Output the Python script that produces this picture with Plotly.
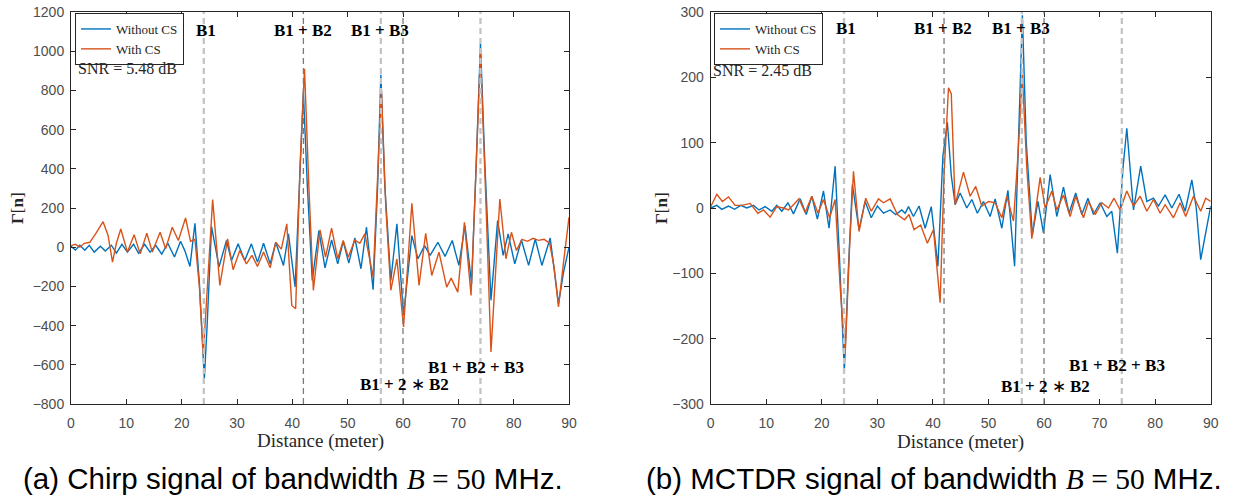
import plotly.graph_objects as go

W, H = 1243, 503

# (a) chirp, B = 50 MHz : distancia (m) y Γ[n]
chirp_x_sin = [0, 0.8, 1.6, 2.5, 3.3, 4.2, 5.3, 6.2, 7.3, 8.2, 9.2, 10.2, 11.3, 12.2, 13.3, 14.3, 15.3, 16.4,
               17.5, 18.7, 19.8, 20.6, 21.5, 22.4, 23.2, 23.7, 24.1, 24.6, 25.4, 26.75, 28.1, 29.0, 30.2, 31.4,
               32.6, 33.7, 34.8, 36.0, 37.0, 38.4, 39.3, 40.5, 41.3, 42.0, 42.7, 43.6, 44.8, 45.9, 47.1, 48.2,
               49.2, 50.2, 51.3, 52.4, 53.4, 54.6, 55.4, 56.0, 56.7, 57.8, 58.9, 60.1, 61.6, 62.7, 63.9, 64.9,
               66.3, 67.6, 68.9, 70.1, 71.2, 72.4, 73.2, 74.0, 74.8, 75.9, 77.1, 78.1, 79.0, 80.2, 81.4, 82.7,
               83.9, 85.1, 86.6, 88.1, 89.0, 90]
chirp_sin_cs = [5, -15, 10, -15, 10, -25, 5, -20, 10, -30, 15, -25, 15, -30, 15, -25, 10, -35,
                20, -50, 30, -20, -98, 122, -180, -420, -670, -400, 105, -100, 34, -68, 17, -68,
                17, -76, 20, -85, 25, -93, 68, -203, 300, 790, 320, -170, 85, -105, 37, -85,
                30, -81, 47, -110, 102, -217, 300, 880, 320, -170, 119, -348, 59, -59, 8, -42,
                25, -47, 34, -93, 110, -187, 400, 1040, 420, -271, 136, -42, 68, -85, 37, -93,
                42, -93, 47, -288, -130, 0]

chirp_x_con = [0, 0.8, 1.6, 2.4, 3.4, 4.5, 5.8, 6.7, 7.5, 8.2, 9.0, 10.2, 11.4, 12.5, 13.7, 14.7, 16.1, 17.1,
               18.3, 19.4, 20.7, 21.6, 22.4, 23.2, 23.9, 24.7, 25.6, 26.9, 28.3, 29.3, 30.5, 31.7, 32.7, 33.7,
               34.8, 36.0, 37.0, 38.0, 39.0, 39.9, 40.6, 41.4, 42.2, 43.0, 43.8, 45.0, 46.0, 47.1, 48.2, 49.2,
               50.1, 51.3, 52.2, 53.1, 54.6, 55.4, 56.1, 56.9, 57.8, 58.9, 60.1, 61.6, 62.9, 64.1, 65.2, 66.5,
               67.9, 68.7, 69.9, 71.1, 72.3, 73.2, 74.0, 74.9, 75.9, 77.5, 78.6, 79.6, 80.5, 81.5, 82.5, 83.5,
               84.5, 85.5, 86.5, 87.3, 88.1, 89.0, 90]
chirp_con_cs = [8, 15, 0, 20, 25, 70, 130, 60, -76, 20, 93, -25, 64, -34, 71, -25, 76, -8,
                102, 34, 149, 30, 40, -200, -551, -200, 243, -195, 42, -115, -17, -85, -42, -98,
                -25, -105, 25, -10, 119, -297, -314, 420, 910, 300, -220, 88, -51, 97, -59, 34,
                -51, 37, 20, 68, -153, 350, 800, 200, -220, -60, -407, 224, -195, 71, -144, -25,
                -204, -158, -229, 127, -246, 400, 990, 300, -534, 246, -59, 76, -17, 40, 30, 45,
                35, 40, 20, -100, -305, -80, 153]

# (b) MCTDR, B = 50 MHz
mctdr_x_sin = [0, 1.1, 2.0, 3.2, 4.3, 5.4, 6.5, 7.7, 8.7, 9.8, 11.0, 11.9, 12.8, 13.9, 14.9, 16.1, 17.2, 18.2,
               19.2, 20.3, 21.3, 22.4, 23.2, 24.05, 24.8, 25.5, 26.7, 27.8, 28.9, 30.0, 31.1, 32.3, 33.3, 34.4,
               35.0, 35.6, 36.5, 37.5, 38.6, 39.7, 40.9, 41.8, 42.6, 43.3, 44.0, 44.9, 46.1, 47.0, 48.0, 49.1,
               50.3, 51.2, 52.4, 53.5, 54.7, 55.5, 56.1, 56.8, 57.9, 58.9, 59.9, 61.1, 62.3, 63.5, 64.5, 65.7,
               66.8, 67.9, 68.9, 70.1, 71.3, 72.2, 73.2, 74.2, 74.9, 76.1, 77.4, 78.5, 79.7, 80.6, 81.8, 83.0,
               84.3, 85.4, 86.6, 87.4, 88.2, 90]
mctdr_sin_cs = [0, 4, -2, 3, -2, 4, 0, 4, -3, 2, -5, 4, -5, 8, -9, 14, -10, 18,
                -17, 26, -31, 64, -80, -250, -90, 36, -33, 10, -15, 3, -8, -3, -10, -3,
                -8, 2, -13, 3, -31, 2, -89, 80, 131, 50, 5, 23, 0, 13, -8, 10,
                -13, 14, -31, 27, -89, 120, 295, 100, -41, 10, -38, 51, -13, 32, -8, 23,
                -10, 15, -10, 8, -13, -5, -69, 60, 122, -3, 64, 10, 15, 3, 20, 0,
                21, -5, 43, 0, -79, 3]

mctdr_x_con = [0, 1.1, 2.1, 3.2, 4.4, 5.6, 7.1, 8.5, 9.5, 10.7, 11.9, 13.1, 14.0, 15.9, 17.0, 18.2, 19.3, 20.3,
               21.4, 22.4, 23.3, 24.2, 25.0, 25.7, 26.7, 27.9, 28.9, 30.2, 31.1, 32.3, 33.6, 34.9, 35.7, 36.6,
               37.8, 39.0, 40.1, 41.3, 42.0, 42.8, 43.3, 44.0, 45.5, 46.7, 47.7, 48.8, 50.0, 51.2, 52.4, 53.3,
               54.5, 55.3, 56.1, 56.9, 57.8, 59.3, 60.2, 61.4, 62.3, 63.5, 64.7, 65.7, 67.1, 68.0, 69.2, 70.4,
               71.6, 72.6, 73.7, 74.9, 76.1, 77.3, 78.5, 79.7, 80.9, 81.8, 83.3, 84.5, 85.5, 86.9, 88.2, 89.1, 90]
mctdr_con_cs = [2, 21, 10, 17, 4, 4, 7, -8, -3, -14, 2, 0, -3, 14, -7, 18, -8, 13,
                -15, 13, -120, -225, -60, 56, -36, 15, -5, 14, 8, 14, -10, -18, -10, -33,
                -26, -54, -33, -145, 50, 184, 175, 5, 55, 18, 33, 3, 10, 8, -15, 18,
                -20, 80, 204, 60, -47, 47, 0, 26, -3, 20, -13, 18, -15, 10, -10, 8,
                0, 15, -3, 26, 3, 18, -5, 13, -8, 5, -15, 8, -13, 18, -5, 15, 10]

# posiciones de las reflexiones (m)
ecos_claros = [24, 56, 74]
ecos_oscuros = [42, 60]

azul = '#0072BD'
naranja = '#D95319'
serif = 'Liberation Serif'
sans = 'Liberation Sans'
gris_eje = '#262626'


def px(p):
    return p / W


def py(p):
    return 1 - p / H


fig = go.Figure()

fig.add_trace(go.Scatter(x=chirp_x_sin, y=chirp_sin_cs, mode='lines', name='Without CS',
                         line=dict(color=azul, width=1.4), xaxis='x', yaxis='y', legend='legend'))
fig.add_trace(go.Scatter(x=chirp_x_con, y=chirp_con_cs, mode='lines', name='With CS',
                         line=dict(color=naranja, width=1.4), xaxis='x', yaxis='y', legend='legend'))
fig.add_trace(go.Scatter(x=mctdr_x_sin, y=mctdr_sin_cs, mode='lines', name='Without CS',
                         line=dict(color=azul, width=1.4), xaxis='x2', yaxis='y2', legend='legend2'))
fig.add_trace(go.Scatter(x=mctdr_x_con, y=mctdr_con_cs, mode='lines', name='With CS',
                         line=dict(color=naranja, width=1.4), xaxis='x2', yaxis='y2', legend='legend2'))

# lineas verticales de las reflexiones
for xr, yr in [('x', 'y'), ('x2', 'y2')]:
    for d in ecos_claros:
        fig.add_shape(type='line', xref=xr, yref=yr + ' domain', x0=d, x1=d, y0=0, y1=1,
                      line=dict(color='#c4c4c4', width=2.3, dash='6px,4px'), layer='above')
    for d in ecos_oscuros:
        fig.add_shape(type='line', xref=xr, yref=yr + ' domain', x0=d, x1=d, y0=0, y1=1,
                      line=dict(color='#7a7a7a', width=1.3, dash='6px,4px'), layer='above')

ydom = [py(404), py(12)]
eje = dict(showline=True, mirror='ticks', linecolor=gris_eje, linewidth=1, ticks='inside',
           ticklen=5, tickcolor=gris_eje, showgrid=False, zeroline=False, ticklabeloverflow='allow',
           tickfont=dict(family=sans, size=14, color='#4d4d4d'))

leyenda = dict(xanchor='left', yanchor='top', bgcolor='white', bordercolor=gris_eje, borderwidth=1,
               font=dict(family=serif, size=13, color=gris_eje), tracegroupgap=0)

fig.update_layout(
    width=W, height=H,
    margin=dict(l=0, r=0, t=0, b=0, autoexpand=False),
    paper_bgcolor='white', plot_bgcolor='white',
    xaxis=dict(domain=[px(71), px(569)], range=[0, 90], dtick=10, anchor='y',
               ticklabelstandoff=6, **eje),
    yaxis=dict(domain=ydom, range=[-800, 1200], dtick=200, anchor='x',
               ticklabelstandoff=3, **eje),
    xaxis2=dict(domain=[px(710.7), px(1210.7)], range=[0, 90], dtick=10, anchor='y2',
                ticklabelstandoff=6, **eje),
    yaxis2=dict(domain=ydom, range=[-300, 300], dtick=100, anchor='x2',
                ticklabelstandoff=3, **eje),
    legend=dict(x=px(75), y=py(13), **leyenda),
    legend2=dict(x=px(714), y=py(13), **leyenda),
)

anot = []
negrita = dict(family=serif, size=17, color='black')
# etiquetas de reflexiones
for xr, yr, ys in [('x', 'y', [1108, -614, -700]), ('x2', 'y2', [274, -241, -273])]:
    for txt, xp, yp in [('<b>B1</b>', 24.4, ys[0]),
                        ('<b>B1 + B2</b>', 41.9, ys[0]),
                        ('<b>B1 + B3</b>', 55.8, ys[0]),
                        ('<b>B1 + B2 + B3</b>', 73.2, ys[1]),
                        ('<b>B1 + 2 </b>∗<b> B2</b>', 60.3, ys[2])]:
        anot.append(dict(text=txt, x=xp, y=yp, xref=xr, yref=yr, xanchor='center', yanchor='middle',
                         showarrow=False, font=negrita))

texto = dict(family=serif, size=16, color=gris_eje)
titulo = dict(family=serif, size=19, color=gris_eje)
gamma = '<b>Γ</b>[<b>n</b>]'
pie = dict(family=sans, size=29.5, color='black')
cap_a = '(a) Chirp signal of bandwidth <span style="font-family:Liberation Serif"><i>B</i> = 50</span> MHz.'
cap_b = '(b) MCTDR signal of bandwidth <span style="font-family:Liberation Serif"><i>B</i> = 50</span> MHz.'
for txt, xpix, ypix, fnt, ang in [('SNR = 5.48 dB', 76, 69, texto, 0),
                                  ('SNR = 2.45 dB', 711, 70, texto, 0),
                                  (gamma, 18, 208, dict(family=serif, size=17, color=gris_eje), -90),
                                  (gamma, 662, 208, dict(family=serif, size=17, color=gris_eje), -90),
                                  ('Distance (meter)', 320, 441, titulo, 0),
                                  ('Distance (meter)', 960.7, 442, titulo, 0),
                                  (cap_a, 293, 478, pie, 0),
                                  (cap_b, 934, 478, pie, 0)]:
    anchor = 'left' if txt.startswith('SNR') else 'center'
    anot.append(dict(text=txt, x=px(xpix), y=py(ypix), xref='paper', yref='paper',
                     xanchor=anchor, yanchor='middle', textangle=ang, showarrow=False, font=fnt))
fig.update_layout(annotations=anot)

# sin margen del body, para que la figura ocupe toda la ventana
fig.write_html("out.html", config={'displayModeBar': False},
               post_script="document.body.style.margin = '0';")
